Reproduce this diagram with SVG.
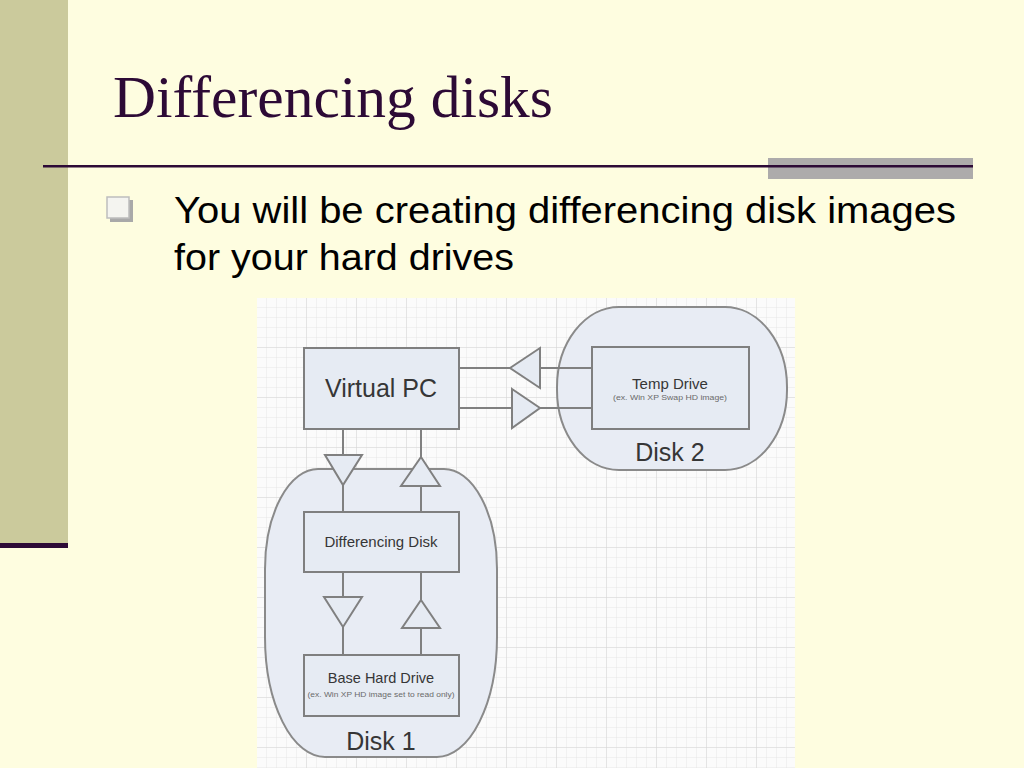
<svg xmlns="http://www.w3.org/2000/svg" width="1024" height="768" viewBox="0 0 1024 768">
<defs>
<pattern id="gridMinor" x="257" y="298" width="10" height="10" patternUnits="userSpaceOnUse">
<path d="M10 0 V10 M0 10 H10" fill="none" stroke="#e6e6e6" stroke-width="1"/>
</pattern>
<pattern id="gridMajor" x="257" y="298" width="50" height="50" patternUnits="userSpaceOnUse">
<path d="M50 0 V50 M0 50 H50" fill="none" stroke="#d6d6d6" stroke-width="1"/>
</pattern>
</defs>
<style>
.box{fill:#e6ebf3;stroke:#7f7f7f;stroke-width:2}
.disk{fill:#e8ecf4;stroke:#8a8a8a;stroke-width:2}
.tri{fill:#e6ebf3;stroke:#808080;stroke-width:2;stroke-linejoin:miter}
.wire{fill:none;stroke:#808080;stroke-width:2}
.lbl{font-family:"Liberation Sans",Arial,sans-serif;fill:#363636;text-anchor:middle}
.small{font-family:"Liberation Sans",Arial,sans-serif;fill:#6a6a6a;text-anchor:middle;font-size:6.5px}
</style>
<rect x="0" y="0" width="1024" height="768" fill="#fefde0"/>
<rect x="0" y="0" width="68" height="544" fill="#cbca9c"/>
<rect x="0" y="543" width="68" height="5" fill="#2d0a36"/>
<rect x="768" y="158" width="205" height="21" fill="#adabab"/>
<rect x="43" y="165" width="930" height="2.5" fill="#2d0a36"/>
<text x="113" y="117" font-family="'Liberation Serif','Times New Roman',serif" font-size="59" fill="#2d0a36" textLength="440" lengthAdjust="spacingAndGlyphs">Differencing disks</text>
<g id="bullet">
<rect x="110" y="200" width="23" height="22" fill="#a9a9a9"/>
<rect x="107" y="197" width="22" height="21" fill="#f4f4f0" stroke="#bdbdbd" stroke-width="1.5"/>
</g>
<text font-family="'Liberation Sans',Arial,sans-serif" font-size="37" fill="#000000">
<tspan x="174" y="223" textLength="782" lengthAdjust="spacingAndGlyphs">You will be creating differencing disk images</tspan>
<tspan x="174" y="270" textLength="340" lengthAdjust="spacingAndGlyphs">for your hard drives</tspan>
</text>
<g id="canvas">
<rect x="257" y="298" width="538" height="470" fill="#fbfbfb"/>
<rect x="257" y="298" width="538" height="470" fill="url(#gridMinor)"/>
<rect x="257" y="298" width="538" height="470" fill="url(#gridMajor)"/>
</g>
<g id="disk1">
<path class="disk" d="M318,469 H444 A53 100 0 0 1 497 569 V637 A60 120 0 0 1 437 757 H325 A60 120 0 0 1 265 637 V569 A53 100 0 0 1 318 469 Z"/>
<text class="lbl" x="381" y="750" font-size="25">Disk 1</text>
</g>
<g id="disk2">
<rect class="disk" x="557" y="307" width="230" height="163" rx="62" ry="80"/>
<text class="lbl" x="670" y="461" font-size="25">Disk 2</text>
</g>
<g id="connectors">
<line class="wire" x1="459" y1="368" x2="592" y2="368"/>
<line class="wire" x1="459" y1="408" x2="592" y2="408"/>
<polygon class="tri" points="510,368 540,348 540,388"/>
<polygon class="tri" points="512,389 540,408 512,428"/>
<line class="wire" x1="343" y1="429" x2="343" y2="512"/>
<line class="wire" x1="421" y1="429" x2="421" y2="512"/>
<polygon class="tri" points="325,455 362,455 343,485"/>
<polygon class="tri" points="421,457 440,486 401,486"/>
<line class="wire" x1="343" y1="572" x2="343" y2="655"/>
<line class="wire" x1="421" y1="572" x2="421" y2="655"/>
<polygon class="tri" points="324,597 362,597 343,627"/>
<polygon class="tri" points="421,600 440,628 402,628"/>
</g>
<g id="virtual-pc">
<rect class="box" x="304" y="348" width="155" height="81"/>
<text class="lbl" x="381" y="397" font-size="25">Virtual PC</text>
</g>
<g id="temp-drive">
<rect class="box" x="592" y="347" width="157" height="82"/>
<text class="lbl" x="670" y="389" font-size="15">Temp Drive</text>
<text class="small" x="670" y="400" textLength="114" lengthAdjust="spacingAndGlyphs">(ex. Win XP Swap HD image)</text>
</g>
<g id="differencing-disk">
<rect class="box" x="304" y="512" width="155" height="60"/>
<text class="lbl" x="381" y="547" font-size="15">Differencing Disk</text>
</g>
<g id="base-hard-drive">
<rect class="box" x="304" y="655" width="155" height="61"/>
<text class="lbl" x="381" y="683" font-size="14.5">Base Hard Drive</text>
<text class="small" x="381" y="697" textLength="147" lengthAdjust="spacingAndGlyphs">(ex. Win XP HD image set to read only)</text>
</g>
</svg>
